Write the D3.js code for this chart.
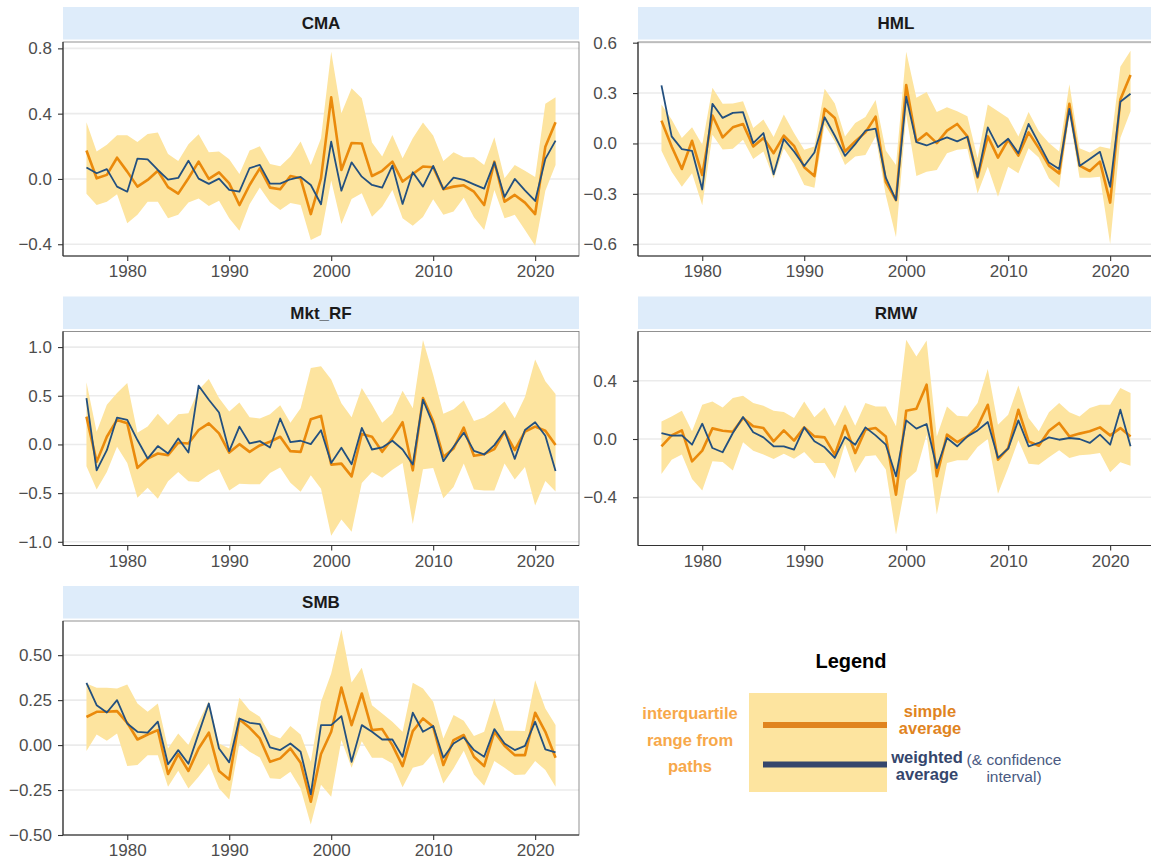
<!DOCTYPE html>
<html>
<head>
<meta charset="utf-8">
<script src="https://cdn.jsdelivr.net/npm/d3@7"></script>
<style>
body{margin:0;overflow:hidden;background:#fff;font-family:"Liberation Sans",Arial,Helvetica,sans-serif}
</style>
</head>
<body>
<svg id="canvas" width="1151" height="861"></svg>
<script>
const years=d3.range(1976,2023)

const cmaSimple=[0.174,0.004,0.025,0.13,0.045,-0.047,-0.006,0.05,-0.05,-0.09,0.004,0.106,0.0,0.04,-0.027,-0.16,-0.037,0.065,-0.053,-0.063,0.018,0.004,-0.215,0.004,0.50,0.055,0.22,0.217,0.018,0.05,0.106,-0.016,0.03,0.076,0.072,-0.063,-0.047,-0.039,-0.078,-0.16,0.106,-0.139,-0.098,-0.145,-0.215,0.198,0.348]
const cmaWeighted=[0.07,0.035,0.06,-0.047,-0.078,0.125,0.12,0.055,-0.004,0.006,0.112,0.002,-0.03,0.002,-0.067,-0.078,0.067,0.086,-0.029,-0.029,-0.002,0.012,-0.037,-0.155,0.229,-0.072,0.102,0.014,-0.037,-0.053,0.082,-0.153,0.041,-0.047,0.08,-0.063,0.008,-0.006,-0.033,-0.059,0.102,-0.11,0.0,-0.07,-0.135,0.123,0.235]
const cmaLow=[-0.09,-0.16,-0.139,-0.094,-0.272,-0.22,-0.139,-0.139,-0.241,-0.22,-0.145,-0.12,-0.166,-0.133,-0.241,-0.317,-0.155,-0.053,-0.143,-0.19,-0.147,-0.16,-0.374,-0.343,-0.01,-0.276,-0.123,-0.088,-0.231,-0.17,-0.067,-0.241,-0.286,-0.233,-0.125,-0.219,-0.2,-0.115,-0.235,-0.313,-0.067,-0.241,-0.22,-0.313,-0.409,-0.072,0.086]
const cmaHigh=[0.348,0.168,0.209,0.268,0.268,0.227,0.276,0.284,0.153,0.11,0.213,0.274,0.164,0.168,0.12,0.031,0.174,0.2,0.092,0.078,0.137,0.229,0.086,0.25,0.78,0.403,0.556,0.495,0.223,0.137,0.27,0.127,0.25,0.346,0.266,0.11,0.164,0.133,0.133,0.086,0.256,0.004,0.086,0.051,0.012,0.46,0.5]

const hmlSimple=[0.136,-0.018,-0.152,0.016,-0.188,0.166,0.036,0.096,0.116,-0.018,0.032,-0.058,0.046,-0.014,-0.142,-0.194,0.206,0.152,-0.048,0.012,0.066,0.16,-0.228,-0.338,0.348,0.012,0.06,0.002,0.076,0.116,0.042,-0.202,0.042,-0.084,0.022,-0.072,0.066,-0.028,-0.132,-0.178,0.236,-0.132,-0.164,-0.108,-0.352,0.262,0.408]
const hmlWeighted=[0.346,0.042,-0.034,-0.044,-0.274,0.236,0.152,0.182,0.186,0.002,0.062,-0.184,0.026,-0.048,-0.134,-0.054,0.156,0.046,-0.074,-0.004,0.076,0.088,-0.204,-0.338,0.278,0.008,-0.012,0.012,0.036,0.012,0.04,-0.198,0.096,-0.022,0.028,-0.058,0.116,0.002,-0.114,-0.152,0.206,-0.134,-0.092,-0.05,-0.258,0.248,0.296]
const hmlLow=[-0.044,-0.168,-0.258,-0.178,-0.368,0.052,-0.036,-0.032,0.022,-0.092,-0.048,-0.208,-0.028,-0.122,-0.248,-0.264,0.112,0.012,-0.128,-0.078,-0.068,0.042,-0.308,-0.558,0.172,-0.194,-0.168,-0.158,-0.058,-0.038,-0.032,-0.298,-0.138,-0.318,-0.138,-0.178,-0.028,-0.084,-0.208,-0.264,0.162,-0.204,-0.204,-0.198,-0.598,0.032,0.192]
const hmlHigh=[0.232,0.142,0.032,0.096,-0.008,0.332,0.236,0.238,0.252,0.092,0.142,0.038,0.172,0.062,-0.038,-0.018,0.326,0.238,0.042,0.122,0.158,0.258,-0.042,-0.128,0.546,0.272,0.306,0.188,0.216,0.192,0.162,-0.088,0.232,0.192,0.152,0.042,0.188,0.072,0.002,-0.048,0.352,-0.028,-0.054,-0.018,-0.032,0.456,0.552]

const mktSimple=[0.286,-0.179,0.079,0.252,0.217,-0.241,-0.145,-0.093,-0.11,0.017,0.01,0.148,0.217,0.114,-0.083,0.003,-0.076,-0.01,0.028,0.079,-0.069,-0.076,0.259,0.293,-0.207,-0.197,-0.328,0.107,0.079,-0.076,0.062,0.228,-0.266,0.476,0.241,-0.128,-0.041,0.172,-0.117,-0.1,-0.048,0.131,-0.059,0.131,0.183,0.141,-0.007]
const mktWeighted=[0.476,-0.266,-0.059,0.276,0.252,0.045,-0.145,-0.017,-0.093,0.062,-0.083,0.603,0.459,0.328,-0.069,0.183,0.01,0.034,-0.031,0.266,0.024,0.038,0.003,0.145,-0.19,-0.034,-0.203,0.169,-0.052,-0.031,0.038,-0.052,-0.207,0.459,0.207,-0.172,-0.024,0.121,-0.066,-0.103,-0.007,0.138,-0.148,0.148,0.228,0.09,-0.272]
const mktLow=[-0.224,-0.462,-0.283,-0.024,-0.19,-0.548,-0.445,-0.559,-0.379,-0.283,-0.379,-0.386,-0.31,-0.255,-0.472,-0.403,-0.41,-0.41,-0.293,-0.238,-0.393,-0.486,-0.317,-0.455,-0.938,-0.772,-0.897,-0.397,-0.283,-0.341,-0.259,-0.19,-0.817,-0.255,-0.241,-0.552,-0.438,-0.197,-0.462,-0.472,-0.472,-0.197,-0.359,-0.231,-0.628,-0.376,-0.483]
const mktHigh=[0.638,0.131,0.407,0.528,0.631,0.121,0.183,0.314,0.2,0.31,0.321,0.562,0.672,0.476,0.338,0.431,0.279,0.266,0.31,0.403,0.224,0.372,0.786,0.803,0.666,0.424,0.279,0.579,0.407,0.224,0.314,0.552,0.372,1.072,0.717,0.314,0.362,0.452,0.241,0.276,0.348,0.441,0.269,0.486,0.872,0.648,0.517]

const rmwSimple=[-0.05,0.025,0.059,-0.153,-0.08,0.073,0.057,0.05,0.144,0.087,0.075,-0.016,0.059,-0.011,0.08,0.018,0.011,-0.107,0.091,-0.096,0.064,0.075,0.018,-0.382,0.194,0.208,0.373,-0.256,0.03,-0.021,0.018,0.087,0.235,-0.142,-0.062,0.201,-0.016,-0.046,0.057,0.11,0.018,0.037,0.053,0.08,0.025,0.075,0.018]
const rmwWeighted=[0.041,0.023,0.025,-0.039,0.105,-0.062,-0.091,0.041,0.151,0.046,0.011,-0.05,-0.05,-0.073,0.08,-0.016,-0.057,-0.13,0.014,-0.039,0.08,0.025,-0.039,-0.256,0.128,0.071,0.103,-0.199,0.007,-0.05,0.018,0.059,0.117,-0.13,-0.066,0.128,-0.05,-0.027,0.011,-0.005,0.007,0.0,-0.027,0.03,-0.039,0.201,-0.05]
const rmwLow=[-0.24,-0.142,-0.107,-0.274,-0.354,-0.153,-0.158,-0.217,-0.023,-0.08,-0.107,-0.137,-0.101,-0.135,-0.089,-0.165,-0.165,-0.272,-0.034,-0.233,-0.119,-0.112,-0.21,-0.656,-0.283,-0.222,0.03,-0.519,-0.165,-0.146,-0.146,-0.055,0.0,-0.375,-0.199,-0.009,-0.169,-0.176,-0.126,-0.078,-0.13,-0.112,-0.107,-0.096,-0.229,-0.16,-0.183]
const rmwHigh=[0.121,0.155,0.194,0.053,0.235,0.258,0.217,0.281,0.297,0.247,0.229,0.194,0.185,0.144,0.258,0.149,0.217,0.087,0.235,0.091,0.247,0.224,0.224,0.087,0.681,0.567,0.677,0.018,0.224,0.16,0.155,0.247,0.48,0.098,0.167,0.368,0.144,0.053,0.183,0.247,0.183,0.155,0.213,0.235,0.235,0.35,0.315]

const smbSimple=[0.156,0.185,0.185,0.189,0.124,0.031,0.059,0.083,-0.161,-0.05,-0.144,-0.019,0.069,-0.144,-0.191,0.143,0.096,0.037,-0.093,-0.074,-0.019,-0.098,-0.315,-0.05,0.074,0.32,0.111,0.287,0.083,0.089,0.0,-0.117,0.078,0.148,0.102,-0.111,0.028,0.056,-0.065,-0.117,0.074,-0.004,-0.056,-0.056,0.18,0.074,-0.07]
const smbWeighted=[0.346,0.222,0.181,0.25,0.12,0.074,0.069,0.13,-0.107,-0.028,-0.104,0.065,0.231,-0.019,-0.096,0.148,0.124,0.117,-0.013,-0.028,0.009,-0.037,-0.274,0.111,0.111,0.161,-0.093,0.111,0.074,0.031,0.031,-0.065,0.18,0.074,0.106,-0.07,0.009,0.043,-0.028,-0.065,0.089,0.009,-0.028,-0.004,0.13,-0.024,-0.041]
const smbLow=[-0.033,0.059,0.024,0.065,-0.117,-0.111,-0.056,-0.056,-0.231,-0.143,-0.241,-0.176,-0.102,-0.241,-0.302,0.009,-0.037,-0.069,-0.185,-0.189,-0.148,-0.241,-0.441,-0.22,-0.287,0.028,-0.126,0.022,-0.07,-0.07,-0.102,-0.235,-0.126,-0.111,-0.046,-0.213,-0.13,-0.031,-0.163,-0.226,-0.089,-0.126,-0.167,-0.163,-0.089,-0.139,-0.231]
const smbHigh=[0.343,0.319,0.319,0.315,0.337,0.231,0.185,0.231,-0.019,0.065,0.0,0.13,0.244,0.009,-0.019,0.263,0.194,0.157,0.059,0.037,0.106,0.059,-0.093,0.241,0.398,0.643,0.348,0.43,0.222,0.176,0.13,0.074,0.346,0.315,0.241,0.037,0.167,0.135,0.05,0.074,0.259,0.08,0.08,0.078,0.361,0.204,0.111]

const xTicks=[1980,1990,2000,2010,2020]
const cmaTicks=[-0.4,0,0.4,0.8]
const hmlTicks=[-0.6,-0.3,0,0.3,0.6]
const mktTicks=[-1,-0.5,0,0.5,1]
const rmwTicks=[-0.4,0,0.4]
const smbTicks=[-0.5,-0.25,0,0.25,0.5]

const bandColor="#FDE49F"
const simpleColor="#EA8A0C"
const weightedColor="#23507F"

// panel layout + data wiring
const panels=[
    {name:"CMA",col:0,row:0,simple:cmaSimple,weighted:cmaWeighted,low:cmaLow,high:cmaHigh,ticks:cmaTicks,dom:[-0.472,0.839],fmt:".1f"},
    {name:"HML",col:1,row:0,simple:hmlSimple,weighted:hmlWeighted,low:hmlLow,high:hmlHigh,ticks:hmlTicks,dom:[-0.67,0.604],fmt:".1f"},
    {name:"Mkt_RF",col:0,row:1,simple:mktSimple,weighted:mktWeighted,low:mktLow,high:mktHigh,ticks:mktTicks,dom:[-1.038,1.16],fmt:".1f"},
    {name:"RMW",col:1,row:1,simple:rmwSimple,weighted:rmwWeighted,low:rmwLow,high:rmwHigh,ticks:rmwTicks,dom:[-0.731,0.738],fmt:".1f"},
    {name:"SMB",col:0,row:2,simple:smbSimple,weighted:smbWeighted,low:smbLow,high:smbHigh,ticks:smbTicks,dom:[-0.5,0.69],fmt:".2f"}
]

const canvas=d3.select("#canvas")
const colX=[63,638]
const labelEnd=[52,617]
const panelW=516
const stripTop=[7,296.5,586]
const stripH=32.5
const plotTop=[42,331.5,621]
const plotH=214

const minus=(s)=>s.replace("-","\u2212")

panels.forEach((p)=>{
    const x0=colX[p.col]
    const top=plotTop[p.row]
    const x=d3.scaleLinear().domain([1973.7,2024.3]).range([x0,x0+panelW])
    const y=d3.scaleLinear().domain(p.dom).range([top+plotH,top])
    const g=canvas.append("g").attr("class","panel")

    // strip
    g.append("rect")
        .attr("x",x0).attr("y",stripTop[p.row])
        .attr("width",panelW).attr("height",stripH)
        .attr("fill","#DEECFA")
    g.append("text")
        .text(p.name)
        .attr("x",x0+panelW/2)
        .attr("y",stripTop[p.row]+stripH/2)
        .attr("dy","0.36em")
        .attr("text-anchor","middle")
        .attr("font-size",17)
        .attr("font-weight","bold")
        .attr("fill","#1a1a1a")

    // grid
    g.selectAll(".grid")
        .data(p.ticks)
        .enter()
        .append("line")
        .attr("x1",x0).attr("x2",x0+panelW)
        .attr("y1",(d)=>y(d)).attr("y2",(d)=>y(d))
        .attr("stroke","#EBEBEB")
        .attr("stroke-width",1.6)

    const rows=years.map((yr,i)=>({yr:yr,s:p.simple[i],w:p.weighted[i],lo:p.low[i],hi:p.high[i]}))

    g.append("path")
        .datum(rows)
        .attr("d",d3.area().x((d)=>x(d.yr)).y0((d)=>y(d.lo)).y1((d)=>y(d.hi)))
        .attr("fill",bandColor)

    g.append("path")
        .datum(rows)
        .attr("d",d3.line().x((d)=>x(d.yr)).y((d)=>y(d.s)))
        .attr("fill","none")
        .attr("stroke",simpleColor)
        .attr("stroke-width",2.6)
        .attr("stroke-linejoin","round")

    g.append("path")
        .datum(rows)
        .attr("d",d3.line().x((d)=>x(d.yr)).y((d)=>y(d.w)))
        .attr("fill","none")
        .attr("stroke",weightedColor)
        .attr("stroke-width",1.8)
        .attr("stroke-linejoin","round")

    // border
    g.append("rect")
        .attr("x",x0).attr("y",top)
        .attr("width",panelW).attr("height",plotH)
        .attr("fill","none")
        .attr("stroke","#777")
        .attr("stroke-width",0.8)

    // axes
    const xAxis=g.append("g")
        .attr("transform",`translate(0,${top+plotH})`)
        .call(d3.axisBottom(x).tickValues(xTicks).tickFormat(d3.format("d")).tickSize(5).tickPadding(4))
    const yAxis=g.append("g")
        .attr("transform",`translate(${x0},0)`)
        .call(d3.axisLeft(y).tickValues(p.ticks).tickFormat((d)=>minus(d3.format(p.fmt)(d))).tickSize(5).tickPadding(4))
    ;[xAxis,yAxis].forEach((a)=>{
        a.select(".domain").attr("stroke","#333").attr("stroke-width",1.2)
        a.selectAll(".tick line").attr("stroke","#333").attr("stroke-width",1.1)
        a.selectAll(".tick text")
            .attr("fill","#4D4D4D")
            .attr("font-size",17)
            .attr("font-family","Liberation Sans, Arial, sans-serif")
    })
    yAxis.select(".domain").attr("d",`M0,${top}V${top+plotH}`)
    xAxis.select(".domain").attr("d",`M${x0},0H${x0+panelW}`)
    yAxis.selectAll(".tick text").attr("x",labelEnd[p.col]-x0)
})

// legend
const legend=canvas.append("g").attr("id","legend")
legend.append("text")
    .text("Legend")
    .attr("x",851).attr("y",668)
    .attr("text-anchor","middle")
    .attr("font-size",20)
    .attr("font-weight","bold")
    .attr("fill","#000")
legend.append("rect")
    .attr("x",749).attr("y",693)
    .attr("width",138).attr("height",99)
    .attr("fill",bandColor)
legend.append("line")
    .attr("x1",763).attr("x2",887).attr("y1",725).attr("y2",725)
    .attr("stroke","#E0841E").attr("stroke-width",6)
legend.append("line")
    .attr("x1",763).attr("x2",887).attr("y1",764.5).attr("y2",764.5)
    .attr("stroke","#35466C").attr("stroke-width",6)

const legendLabels=[
    {t:"interquartile",x:690,y:719,c:"#F7A84A",b:true},
    {t:"range from",x:690,y:746,c:"#F7A84A",b:true},
    {t:"paths",x:690,y:772,c:"#F7A84A",b:true},
    {t:"simple",x:930,y:717,c:"#E0841E",b:true},
    {t:"average",x:930,y:734,c:"#E0841E",b:true},
    {t:"weighted",x:927,y:763,c:"#35466C",b:true},
    {t:"average",x:927,y:780,c:"#35466C",b:true},
    {t:"(& confidence",x:1014,y:765,c:"#4A5A82",b:false},
    {t:"interval)",x:1014,y:781.5,c:"#4A5A82",b:false}
]
legend.selectAll(".lab")
    .data(legendLabels)
    .enter()
    .append("text")
    .text((d)=>d.t)
    .attr("x",(d)=>d.x)
    .attr("y",(d)=>d.y)
    .attr("text-anchor","middle")
    .attr("font-size",(d)=>d.b?16.5:15.5)
    .attr("font-weight",(d)=>d.b?"bold":"normal")
    .attr("fill",(d)=>d.c)
</script>
</body>
</html>
